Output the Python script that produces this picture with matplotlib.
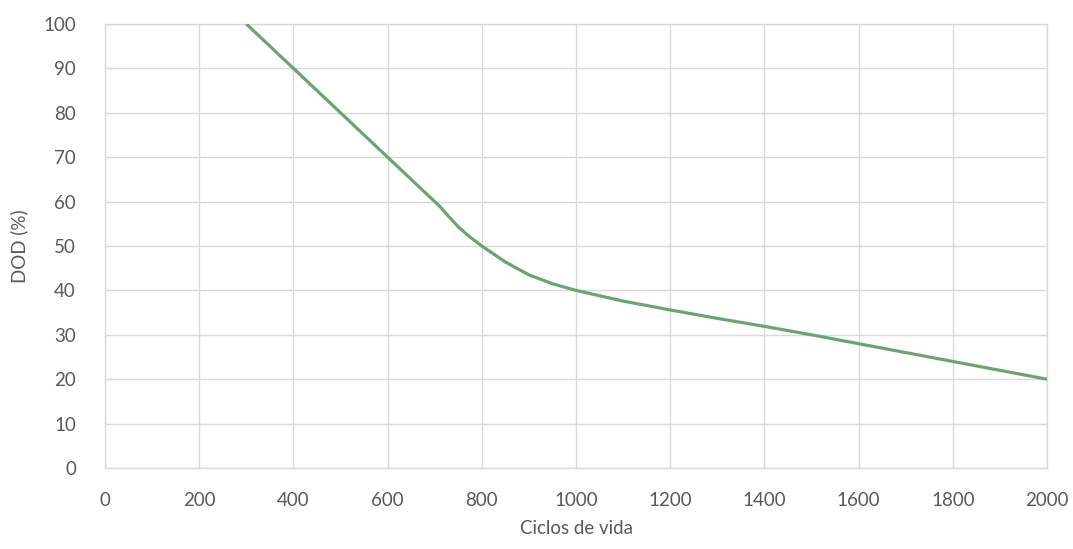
import matplotlib
matplotlib.use('Agg')
import matplotlib.pyplot as plt

# values
ciclos = [300, 400, 500, 600, 700, 710, 730, 750, 775, 800, 850, 900, 950, 1000,
          1100, 1200, 1300, 1400, 1500, 1600, 1800, 2000]
dod = [100, 90, 80, 70, 60, 59, 56.6, 54.3, 52, 50, 46.4, 43.5, 41.5, 40,
       37.6, 35.6, 33.7, 31.9, 30, 28, 24, 20]

x_ticks = list(range(0, 2001, 200))
y_ticks = list(range(0, 101, 10))

plt.rcParams['font.family'] = ['Lato', 'DejaVu Sans']
text_color = '#595959'
grid_color = '#d9d9d9'

fig = plt.figure(figsize=(10.73, 5.49), dpi=100)
ax = fig.add_axes([0.0979, 0.1475, 0.8779, 0.8088])

ax.plot(ciclos, dod, color='#6aa56e', linewidth=2.3, solid_capstyle='butt',
        solid_joinstyle='round', zorder=3)

ax.set_xlim(0, 2000)
ax.set_ylim(0, 100)
ax.set_xticks(x_ticks)
ax.set_yticks(y_ticks)
ax.grid(True, color=grid_color, linewidth=1)
ax.set_axisbelow(True)
for side, sp in ax.spines.items():
    sp.set_color(grid_color)
    sp.set_linewidth(1)
ax.tick_params(length=0, labelsize=13.5, colors=text_color)
ax.tick_params(axis='x', pad=17)
ax.tick_params(axis='y', pad=21)

ax.set_xlabel('Ciclos de vida', fontsize=13.5, color=text_color, labelpad=8)
ax.set_ylabel('DOD (%)', fontsize=13.5, color=text_color, labelpad=11)

fig.savefig('out.png', dpi=100)
